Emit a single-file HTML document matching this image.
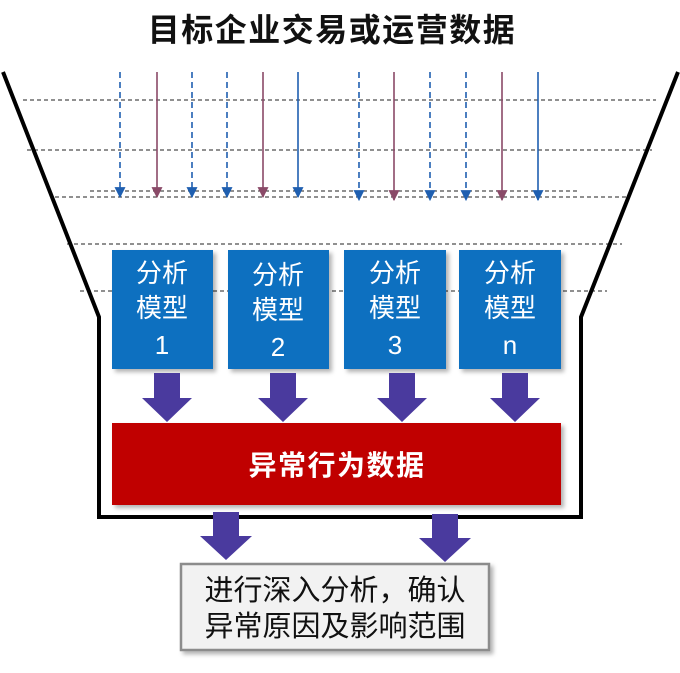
<!DOCTYPE html>
<html><head><meta charset="utf-8"><style>
html,body{margin:0;padding:0;background:#fff;}
svg{display:block;}
text{font-family:"Liberation Sans","Noto Sans CJK SC",sans-serif;}
</style></head><body>
<svg width="680" height="673" viewBox="0 0 680 673" xmlns="http://www.w3.org/2000/svg">
<defs>
<marker id="hb" markerWidth="11" markerHeight="11" refX="9" refY="5" orient="auto" markerUnits="userSpaceOnUse" viewBox="0 0 10 10"><path d="M0,0 L10,5 L0,10 z" fill="#1f5fb0"/></marker>
<marker id="hp" markerWidth="11" markerHeight="11" refX="9" refY="5" orient="auto" markerUnits="userSpaceOnUse" viewBox="0 0 10 10"><path d="M0,0 L10,5 L0,10 z" fill="#8a4a68"/></marker>
<filter id="sh" x="-10%" y="-10%" width="130%" height="130%"><feDropShadow dx="3" dy="3" stdDeviation="2" flood-color="#000" flood-opacity="0.3"/></filter>
</defs>
<text x="332" y="41" text-anchor="middle" font-size="32" font-weight="bold" letter-spacing="1.5" fill="#111">目标企业交易或运营数据</text>
<g stroke="#222" stroke-width="1" stroke-dasharray="4,3">
<line x1="23" y1="100" x2="656" y2="100"/>
<line x1="27" y1="150" x2="652" y2="150"/>
<line x1="90" y1="191" x2="580" y2="191"/>
<line x1="55" y1="197" x2="628" y2="197"/>
<line x1="67" y1="244" x2="622" y2="244"/>
<line x1="80" y1="291" x2="607" y2="291"/>
</g>
<g stroke-width="1.6" fill="none">
<line x1="120" y1="72" x2="120" y2="197" stroke="#1f5fb0" stroke-dasharray="6,4" marker-end="url(#hb)"/>
<line x1="157" y1="72" x2="157" y2="197" stroke="#8a4a68" marker-end="url(#hp)"/>
<line x1="192" y1="72" x2="192" y2="197" stroke="#1f5fb0" stroke-dasharray="6,4" marker-end="url(#hb)"/>
<line x1="227" y1="72" x2="227" y2="197" stroke="#1f5fb0" stroke-dasharray="6,4" marker-end="url(#hb)"/>
<line x1="263" y1="72" x2="263" y2="197" stroke="#8a4a68" marker-end="url(#hp)"/>
<line x1="298" y1="72" x2="298" y2="197" stroke="#1f5fb0" marker-end="url(#hb)"/>
<line x1="359" y1="72" x2="359" y2="200" stroke="#1f5fb0" stroke-dasharray="6,4" marker-end="url(#hb)"/>
<line x1="394" y1="72" x2="394" y2="200" stroke="#8a4a68" marker-end="url(#hp)"/>
<line x1="430" y1="72" x2="430" y2="200" stroke="#1f5fb0" stroke-dasharray="6,4" marker-end="url(#hb)"/>
<line x1="466" y1="72" x2="466" y2="200" stroke="#1f5fb0" stroke-dasharray="6,4" marker-end="url(#hb)"/>
<line x1="502" y1="72" x2="502" y2="200" stroke="#8a4a68" marker-end="url(#hp)"/>
<line x1="538" y1="72" x2="538" y2="200" stroke="#1f5fb0" marker-end="url(#hb)"/>
</g>
<polyline points="3,72 99,317 99,517 581,517 581,317 678,72" fill="none" stroke="#000" stroke-width="4"/>
<g filter="url(#sh)" fill="#0d6fc0">
<rect x="112" y="250" width="101" height="119"/>
<rect x="228" y="250" width="101" height="119"/>
<rect x="344" y="250" width="102" height="119"/>
<rect x="459" y="250" width="102" height="119"/>
</g>
<g fill="#fff" font-size="26" text-anchor="middle">
<text x="162" y="282">分析</text><text x="162" y="317">模型</text><text x="162" y="354">1</text>
<text x="278" y="284">分析</text><text x="278" y="319">模型</text><text x="278" y="356">2</text>
<text x="395" y="282">分析</text><text x="395" y="317">模型</text><text x="395" y="354">3</text>
<text x="510" y="282">分析</text><text x="510" y="317">模型</text><text x="510" y="354">n</text>
</g>
<g fill="#4a3a9e">
<path d="M154,373 h26 v25 h12 l-25,24 l-25,-24 h12 z"/>
<path d="M270,373 h26 v25 h12 l-25,24 l-25,-24 h12 z"/>
<path d="M389,373 h26 v25 h12 l-25,24 l-25,-24 h12 z"/>
<path d="M502,373 h26 v25 h12 l-25,24 l-25,-24 h12 z"/>
</g>
<rect x="112" y="423" width="449" height="82" fill="#c00000" filter="url(#sh)"/>
<text x="337" y="475" text-anchor="middle" fill="#fff" font-size="28" font-weight="bold" letter-spacing="1.5">异常行为数据</text>
<g fill="#4a3a9e">
<path d="M213,512 h26 v24 h13 l-26,24 l-26,-24 h13 z"/>
<path d="M432,514 h26 v24 h13 l-26,24 l-26,-24 h13 z"/>
</g>
<rect x="181" y="564" width="308" height="86" fill="#f2f2f2" stroke="#8c8c8c" stroke-width="2.5" filter="url(#sh)"/>
<g font-size="29" text-anchor="middle" fill="#111">
<text x="335" y="600">进行深入分析，确认</text>
<text x="335" y="636">异常原因及影响范围</text>
</g>
</svg>
</body></html>
